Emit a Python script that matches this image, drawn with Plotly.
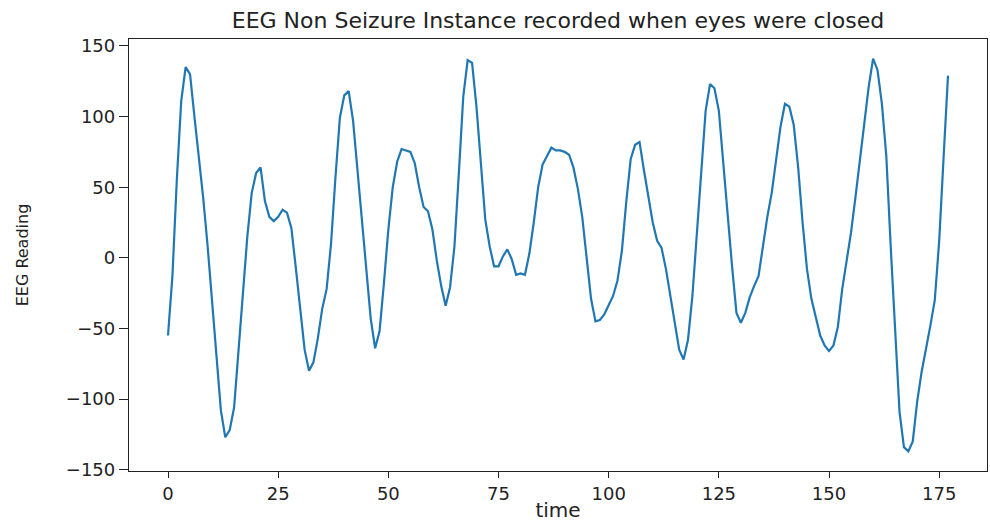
import numpy as np
import plotly.graph_objects as go

# EEG samples (one reading per time step)
eeg_reading = [
    -55, -13, 55, 111, 135, 130, 100, 72, 42, 8,
    -30, -68, -108, -127, -122, -106, -65, -25, 15, 46,
    60, 64, 40, 29, 26, 29, 34, 32, 21, -7,
    -36, -65, -80, -74, -57, -36, -22, 10, 57, 99,
    115, 118, 97, 62, 22, -13, -43, -64, -52, -18,
    20, 50, 68, 77, 76, 75, 67, 50, 36, 33,
    20, -2, -20, -34, -21, 8, 60, 114, 140, 138,
    107, 64, 27, 8, -6, -6, 1, 6, -1, -12,
    -11, -12, 3, 25, 50, 66, 72, 78, 76, 76,
    75, 73, 64, 49, 29, -1, -29, -45, -44, -40,
    -34, -27, -16, 5, 40, 70, 80, 82, 62, 43,
    25, 12, 7, -8, -27, -46, -65, -72, -58, -27,
    15, 61, 104, 123, 120, 104, 67, 27, -6, -39,
    -46, -39, -28, -20, -13, 8, 29, 46, 69, 93,
    109, 107, 94, 64, 25, -8, -29, -43, -55, -62,
    -66, -62, -49, -22, -3, 18, 43, 69, 96, 121,
    141, 133, 109, 72, 8, -48, -109, -134, -137, -130,
    -102, -81, -65, -48, -30, 12, 71, 129,
]
time = list(range(len(eeg_reading)))

x_ticks = [0, 25, 50, 75, 100, 125, 150, 175]
y_ticks = [-150, -100, -50, 0, 50, 100, 150]

# 5% padding around the data, like matplotlib's default autoscale
def padded(lo, hi, frac=0.05):
    span = hi - lo
    return [lo - frac * span, hi + frac * span]

x_range = padded(min(time), max(time))
y_range = padded(min(eeg_reading), max(eeg_reading))

fig = go.Figure(
    go.Scatter(
        x=time,
        y=eeg_reading,
        mode="lines",
        line=dict(color="#1f77b4", width=2.2),
        showlegend=False,
    )
)

axis_common = dict(
    showline=True,
    linecolor="#222222",
    linewidth=1.3,
    mirror=True,
    showgrid=False,
    zeroline=False,
    ticks="outside",
    tickcolor="#222222",
    tickwidth=1.3,
    tickfont=dict(family="DejaVu Sans", size=18, color="#222222"),
)

fig.update_xaxes(
    range=x_range,
    tickvals=x_ticks,
    ticklen=6,
    title=dict(text="time", font=dict(family="DejaVu Sans", size=20, color="#222222"), standoff=2),
    **axis_common,
)
fig.update_yaxes(
    range=y_range,
    tickvals=y_ticks,
    ticklen=9,
    title=dict(text="EEG Reading", font=dict(family="DejaVu Sans", size=16, color="#222222"), standoff=33),
    **axis_common,
)

fig.update_layout(
    width=990,
    height=522,
    margin=dict(l=129, r=2, t=39, b=49),
    paper_bgcolor="white",
    plot_bgcolor="white",
    title=dict(
        text="EEG Non Seizure Instance recorded when eyes were closed",
        font=dict(family="DejaVu Sans", size=22, color="#222222"),
        x=0.5,
        xref="paper",
        xanchor="center",
        y=0.962,
        yref="container",
        yanchor="middle",
    ),
)

fig.write_html("out.html")
